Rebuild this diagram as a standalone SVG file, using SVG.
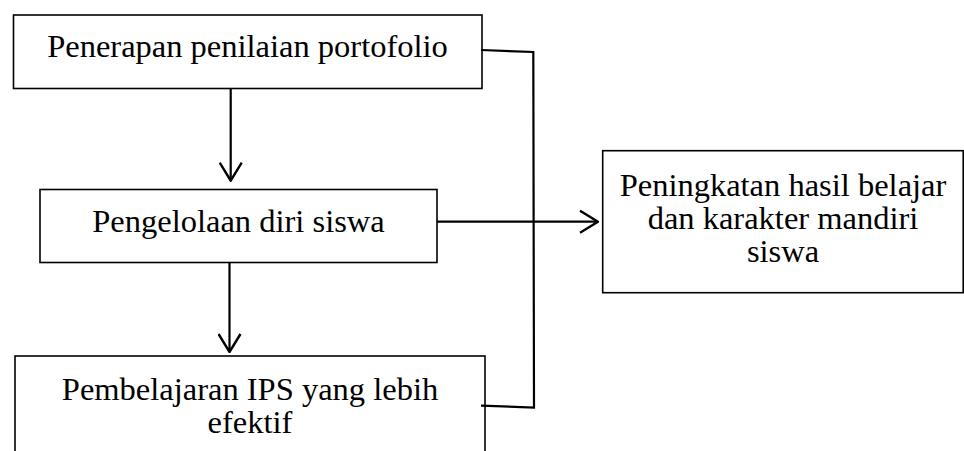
<svg xmlns="http://www.w3.org/2000/svg" width="964" height="451" viewBox="0 0 964 451">
<defs>
<style>
.box{fill:#fff;stroke:#000;stroke-width:1.6}
.ln{fill:none;stroke:#000;stroke-width:2.2}
.t{font-family:"Liberation Serif","Times New Roman",serif;font-size:32.5px;fill:#000;text-anchor:middle}
</style>
<marker id="ah" viewBox="0 0 20 24" refX="19" refY="12" markerWidth="20" markerHeight="24" markerUnits="userSpaceOnUse" orient="auto">
<path d="M1,1 L19,12 L1,23" fill="none" stroke="#000" stroke-width="2.4"/>
</marker>
</defs>
<rect width="964" height="451" fill="#fff"/>
<g id="node-penerapan">
<rect class="box" x="13.5" y="15" width="468.5" height="73.5"/>
<text class="t" x="247.5" y="57">Penerapan penilaian portofolio</text>
</g>
<g id="node-pengelolaan">
<rect class="box" x="40" y="189.5" width="397" height="73"/>
<text class="t" x="238.5" y="232">Pengelolaan diri siswa</text>
</g>
<g id="node-pembelajaran">
<rect class="box" x="15" y="356" width="470" height="110"/>
<text class="t" x="250" y="400">Pembelajaran IPS yang lebih</text>
<text class="t" x="250" y="433">efektif</text>
</g>
<g id="node-peningkatan">
<rect class="box" x="602.7" y="150.7" width="360.5" height="142"/>
<text class="t" x="783" y="196">Peningkatan hasil belajar</text>
<text class="t" x="783" y="229">dan karakter mandiri</text>
<text class="t" x="783" y="262">siswa</text>
</g>
<g id="connectors">
<line class="ln" x1="230.7" y1="88.5" x2="230.7" y2="180.7" marker-end="url(#ah)"/>
<line class="ln" x1="229.5" y1="262.5" x2="229.5" y2="352" marker-end="url(#ah)"/>
<line class="ln" x1="437" y1="221.7" x2="598" y2="221.7" marker-end="url(#ah)"/>
<polyline class="ln" points="481,50 533.3,52 534,407.5 481,405.7"/>
</g>
</svg>
